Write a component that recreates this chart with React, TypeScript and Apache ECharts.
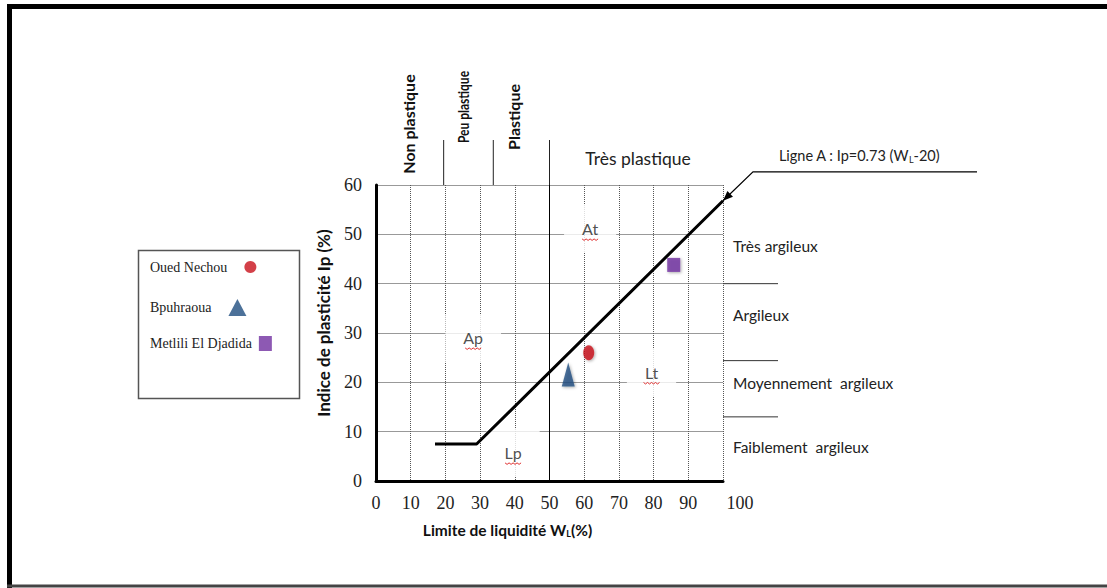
import React, { useEffect, useRef } from "react";
import * as echarts from "echarts";

// ---- data ----
const xTicks = [0, 10, 20, 30, 40, 50, 60, 70, 80, 90, 100];
const yTicks = [0, 10, 20, 30, 40, 50, 60];
const lineA: [number, number][] = [[17, 7.5], [29, 7.5], [100, 56.8]];
const ouedNechou: [number, number][] = [[61.3, 26]];
const bpuhraoua: [number, number][] = [[55.4, 21.6]];
const metlili: [number, number][] = [[85.8, 43.8]];
const seriesNames = ["Oued Nechou", "Bpuhraoua", "Metlili El Djadida"];
const zoneLabels: [number, number, string][] = [
  [61.7, 51.1, "At"],
  [28, 29, "Ap"],
  [79.4, 22, "Lt"],
  [39.5, 5.7, "Lp"],
];
// plasticity boundaries on WL (top), argilosity boundaries on Ip (right)
const wlBounds = [19.5, 33.8, 50];
const ipBounds = [40, 24.4, 13];
const topLabels = [
  { text: "Non plastique", x: 9.5, size: 16, squeeze: 1 },
  { text: "Peu plastique", x: 25.3, size: 15, squeeze: 0.8 },
  { text: "Plastique", x: 39.7, size: 16, squeeze: 1 },
];
const rightLabels = [
  { text: "Très argileux", y: 47.6 },
  { text: "Argileux", y: 33.6 },
  { text: "Moyennement  argileux", y: 19.8 },
  { text: "Faiblement  argileux", y: 6.9 },
];

const SANS = "Lato, 'Open Sans', sans-serif";
const SERIF = "'Liberation Serif', 'DejaVu Serif', serif";

export default function App() {
  const ref = useRef<HTMLDivElement>(null);
  useEffect(() => {
    document.body.style.margin = "0";
    const chart = echarts.init(ref.current!, null, { renderer: "svg" });
    const legendTops = [260, 299, 336];
    const legendSizes = [
      [12, 15],
      [18, 17],
      [13, 15],
    ];
    const legendTextGap = [12, 12, 2];
    chart.setOption({
      animation: false,
      backgroundColor: "#fff",
      grid: { left: 376, top: 185, width: 347, height: 296, containLabel: false },
      legend: seriesNames.map((n, i) => ({
        data: [n],
        orient: "horizontal",
        left: 150,
        top: legendTops[i],
        align: "right",
        itemWidth: legendSizes[i][0],
        itemHeight: legendSizes[i][1],
        padding: 0,
        textStyle: { fontFamily: SERIF, fontSize: 14, color: "#222", padding: [0, legendTextGap[i], 0, 0] },
        selectedMode: false,
      })),
      xAxis: {
        type: "value",
        min: 0,
        max: 100,
        interval: 10,
        axisLine: { show: true, onZero: false, lineStyle: { color: "#000", width: 3 } },
        axisTick: { show: false },
        axisLabel: {
          margin: 13,
          fontFamily: SERIF,
          fontSize: 18,
          color: "#222",
          formatter: (v: number) => (v === 100 ? "{b|100}" : String(v)),
          rich: { b: { fontFamily: SERIF, fontSize: 18, color: "#222", padding: [0, 0, 0, 34] } },
        },
        splitLine: { show: true, lineStyle: { color: "#555", type: "dotted", width: 1 } },
        name: "Limite de liquidité W{s|L}(%)",
        nameLocation: "middle",
        nameGap: 40,
        nameTextStyle: {
          fontFamily: SANS,
          fontWeight: "bold",
          fontSize: 15.5,
          color: "#111",
          padding: [0, 84, 0, 0],
          rich: { s: { fontFamily: SANS, fontWeight: "bold", fontSize: 9, padding: [8, 0, 0, 0] } },
        },
      },
      yAxis: {
        type: "value",
        min: 0,
        max: 60,
        interval: 10,
        axisLine: { show: true, onZero: false, lineStyle: { color: "#000", width: 3 } },
        axisTick: { show: false },
        axisLabel: { margin: 14, fontFamily: SERIF, fontSize: 18, color: "#222" },
        splitLine: { show: true, lineStyle: { color: "#999", type: "solid", width: 1 } },
        name: "Indice de plasticité Ip (%)",
        nameLocation: "middle",
        nameGap: 44,
        nameTextStyle: { fontFamily: SANS, fontWeight: "bold", fontSize: 17, color: "#111", padding: [0, 0, 0, 20] },
      },
      series: [
        {
          name: "Ligne A",
          type: "line",
          data: lineA,
          symbol: "none",
          lineStyle: { color: "#000", width: 3 },
          z: 5,
          markLine: {
            silent: true,
            symbol: "none",
            label: { show: false },
            lineStyle: { color: "#000", width: 1, type: "solid" },
            data: [{ xAxis: 50 }],
          },
        },
        {
          name: "zones",
          type: "scatter",
          data: zoneLabels,
          symbolSize: 1,
          itemStyle: { color: "rgba(0,0,0,0)" },
          silent: true,
          z: 3,
          label: {
            show: true,
            position: "inside",
            formatter: (p: any) => p.value[2],
            fontFamily: SANS,
            fontSize: 16,
            color: "#222",
            backgroundColor: "#fff",
            padding: [16, 18, 16, 18],
          },
        },
        {
          name: seriesNames[0],
          type: "scatter",
          data: ouedNechou,
          symbol: "circle",
          symbolSize: [11, 15],
          itemStyle: { color: "#c8101a", shadowBlur: 3, shadowColor: "rgba(0,0,0,0.4)", shadowOffsetX: 1, shadowOffsetY: 1 },
          z: 6,
        },
        {
          name: seriesNames[1],
          type: "scatter",
          data: bpuhraoua,
          symbol: "triangle",
          symbolSize: [13, 24],
          itemStyle: { color: "#1f4e80", shadowBlur: 3, shadowColor: "rgba(0,0,0,0.4)", shadowOffsetX: 1, shadowOffsetY: 1 },
          z: 6,
        },
        {
          name: seriesNames[2],
          type: "scatter",
          data: metlili,
          symbol: "rect",
          symbolSize: [13, 14],
          itemStyle: { color: "#7030a0", shadowBlur: 3, shadowColor: "rgba(0,0,0,0.4)", shadowOffsetX: 1, shadowOffsetY: 1 },
          z: 6,
        },
      ],
    });

    const px = (x: number, y: number) => chart.convertToPixel({ gridIndex: 0 }, [x, y]) as number[];
    const [x100, yTop] = px(100, 60);
    const graphics: any[] = [];

    // outer frame
    graphics.push(
      { type: "line", shape: { x1: 9.5, y1: 4, x2: 9.5, y2: 588 }, style: { stroke: "#000", lineWidth: 5 } },
      { type: "line", shape: { x1: 7, y1: 6.5, x2: 1107, y2: 6.5 }, style: { stroke: "#000", lineWidth: 5 } },
      { type: "line", shape: { x1: 7, y1: 586, x2: 1107, y2: 586 }, style: { stroke: "#444", lineWidth: 3 } }
    );

    // legend frame
    graphics.push({
      type: "rect",
      shape: { x: 138.5, y: 250.5, width: 161, height: 148 },
      style: { fill: null, stroke: "#555", lineWidth: 1.5 },
      z: -1,
    });

    // top boundaries
    wlBounds.forEach((b) => {
      const [bx] = px(b, 60);
      graphics.push({ type: "line", shape: { x1: bx, y1: yTop - 45, x2: bx, y2: yTop }, style: { stroke: "#222", lineWidth: 1 } });
    });
    const topY = [124, 107, 117];
    topLabels.forEach((t, i) => {
      const [tx] = px(t.x, 60);
      graphics.push({
        type: "text",
        x: tx,
        y: topY[i],
        rotation: Math.PI / 2,
        scaleX: t.squeeze,
        style: { text: t.text, fontFamily: SANS, fontWeight: "bold", fontSize: t.size, fill: "#111", align: "center", verticalAlign: "middle" },
      });
    });
    {
      const [tx] = px(75.5, 60);
      graphics.push({
        type: "text",
        x: tx,
        y: 158,
        style: { text: "Très plastique", fontFamily: SANS, fontSize: 17.5, fill: "#222", align: "center", verticalAlign: "middle" },
      });
    }

    // right boundaries and labels
    ipBounds.forEach((b) => {
      const [, by] = px(100, b);
      graphics.push({ type: "line", shape: { x1: x100, y1: by, x2: x100 + 55, y2: by }, style: { stroke: "#333", lineWidth: 1 } });
    });
    rightLabels.forEach((r) => {
      const [, ry] = px(100, r.y);
      graphics.push({
        type: "text",
        x: x100 + 10,
        y: ry,
        style: { text: r.text, fontFamily: SANS, fontSize: 15.5, fill: "#222", align: "left", verticalAlign: "middle" },
      });
    });

    // spell-check squiggles under zone labels
    zoneLabels.forEach((z) => {
      const [cx, cy] = px(z[0], z[1]);
      const pts: number[][] = [];
      for (let i = 0; i <= 8; i++) pts.push([cx - 8 + i * 2, cy + 10 + (i % 2 ? 1.5 : 0)]);
      graphics.push({ type: "polyline", shape: { points: pts }, style: { stroke: "#e03030", lineWidth: 1, fill: null }, z: 10 });
    });

    // Ligne A annotation arrow
    const tip = px(lineA[2][0], lineA[2][1]);
    const elbow = [tip[0] + 30, tip[1] - 29];
    graphics.push({
      type: "polyline",
      shape: { points: [tip, elbow, [977, elbow[1]]] },
      style: { stroke: "#000", lineWidth: 1.2, fill: null },
    });
    {
      const dx = tip[0] - elbow[0];
      const dy = tip[1] - elbow[1];
      const L = Math.hypot(dx, dy);
      const ux = dx / L, uy = dy / L;
      const bx = tip[0] - ux * 10, by = tip[1] - uy * 10;
      graphics.push({
        type: "polygon",
        shape: { points: [tip, [bx - uy * 4, by + ux * 4], [bx + uy * 4, by - ux * 4]] },
        style: { fill: "#000" },
      });
    }
    graphics.push({
      type: "text",
      x: 859,
      y: 155,
      style: {
        text: "Ligne A : Ip=0.73 (W{s|L}-20)",
        fontFamily: SANS,
        fontSize: 14.5,
        fill: "#222",
        align: "center",
        verticalAlign: "middle",
        rich: { s: { fontFamily: SANS, fontSize: 9, fill: "#222", padding: [8, 0, 0, 0] } },
      },
    });

    chart.setOption({ graphic: graphics });
    return () => chart.dispose();
  }, []);
  return <div ref={ref} style={{ width: 1107, height: 588 }} />;
}
